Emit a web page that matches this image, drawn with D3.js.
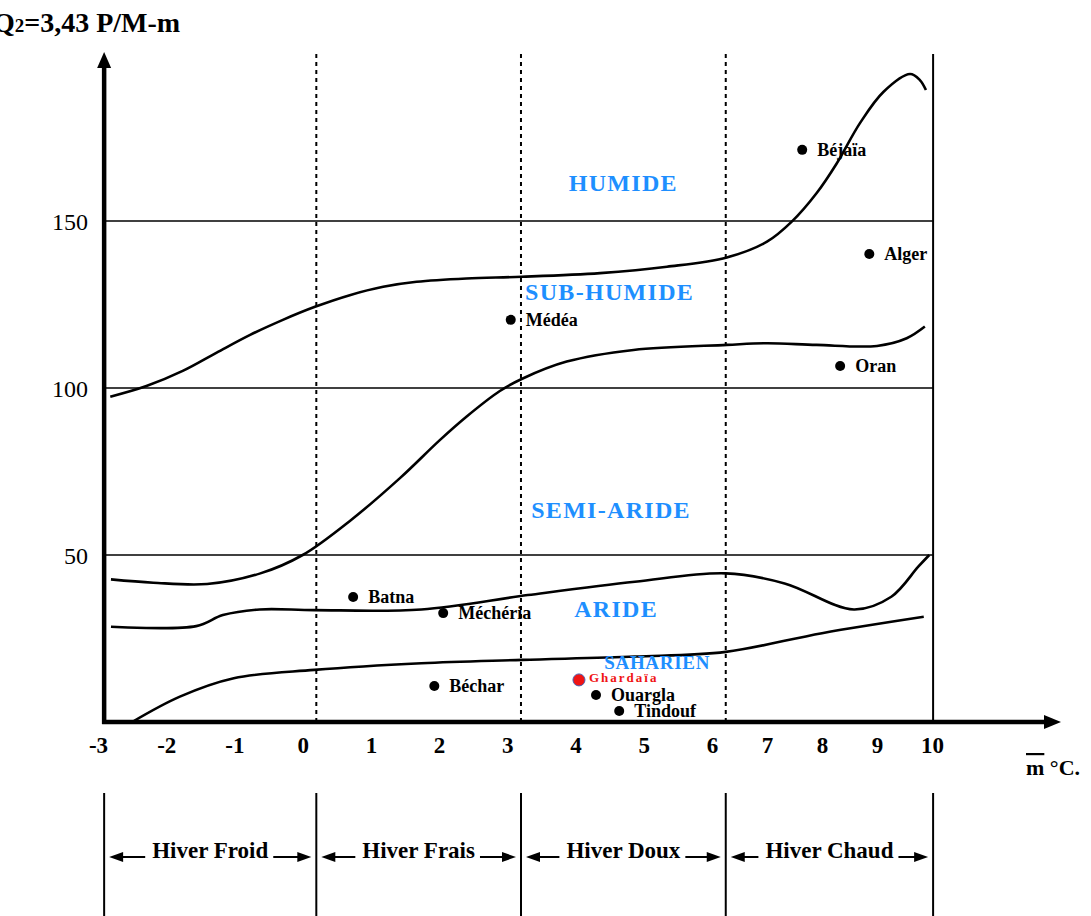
<!DOCTYPE html>
<html><head><meta charset="utf-8">
<script src="https://cdn.jsdelivr.net/npm/d3@7"></script>
<style>
html,body{margin:0;padding:0;background:#fff;}
text{font-family:"Liberation Serif","Times New Roman",serif;}
</style></head>
<body><svg id="chart" width="1091" height="916"></svg>
<script>
// ---------------- DATA ----------------
const xTicks = [-3,-2,-1,0,1,2,3,4,5,6,7,8,9,10];
const yTicks = [50,100,150];

// Climatic zone boundary curves (m °C, Q2)
const curveHumideM = [-2.82,-2.29,-1.75,-1.26,-0.77,-0.29,0.18,0.69,1.18,1.67,2.4,3.21,4.36,5.34,6.27,7.0,7.45,7.9,8.27,8.69,9.12,9.6,9.78,9.89];
const curveHumideQ = [97.4,100.6,105.2,110.6,115.9,120.4,124.3,127.8,130.3,131.8,132.8,133.3,134.4,136.3,139.1,143.8,149.8,158.3,167.3,179.3,188.7,194,192.2,189.2];

const curveSubHumideM = [-2.81,-2.19,-1.4,-0.62,0.0,0.71,1.43,2.01,2.4,2.89,3.21,3.87,4.85,6.27,7.0,7.9,9.0,9.54,9.87];
const curveSubHumideQ = [42.7,41.7,41.3,44.5,50.0,60.5,73.1,84.4,91.4,99.1,102.7,107.9,111.4,112.9,113.4,112.9,112.6,114.9,118.4];

const curveSemiAridM = [-2.81,-1.56,-1.17,-0.63,0.17,1.74,3.3,4.87,6.25,7.32,8.58,9.26,9.75,9.95];
const curveSemiAridQ = [28.5,28.7,32.0,33.7,33.5,33.7,38.0,42.0,44.5,41.5,33.7,37.5,46.5,50.0];

const curveArideM = [-2.5,-1.8,-1.01,0.17,1.74,3.22,4.87,6.25,8.0,9.85];
const curveArideQ = [0.0,7.6,13.1,15.6,17.6,18.6,19.6,21.0,26.6,31.5];

// Stations
const stations = ["Béjaïa","Alger","Médéa","Oran","Batna","Méchéria","Béchar","Ghardaïa","Ouargla","Tindouf"];
const stationM = [7.64,8.86,3.05,8.33,0.74,2.06,1.93,4.05,4.3,4.64];
const stationQ = [171.3,140.1,120.4,106.6,37.4,32.6,10.8,12.6,8.1,3.3];

// Zone labels
const zoneNames = ["HUMIDE","SUB-HUMIDE","SEMI-ARIDE","ARIDE","SAHARIEN"];
const zoneM = [3.9,3.26,3.35,3.98,4.42];
const zoneQ = [159.1,126.3,61.1,31.5,15.8];

// Winter types
const winterNames = ["Hiver Froid","Hiver Frais","Hiver Doux","Hiver Chaud"];
const winterBounds = [-2.91,0.2,3.2,6.25,10.02];

// ---------------- CHART ----------------
const svg = d3.select("#chart");
const x = d3.scaleLinear().domain([-3,6,10]).range([98,712,932]);
const y = d3.scaleLinear().domain([0,200]).range([722,54]);
const x0 = x(winterBounds[0]), x1 = x(winterBounds[4]);
const yTop = 54, yBase = y(0);
const blue = "#1e8fff";

// horizontal reference lines
svg.append("g").selectAll("line").data(yTicks).join("line")
  .attr("x1",x0).attr("x2",x1).attr("y1",d=>y(d)).attr("y2",d=>y(d))
  .attr("stroke","#000").attr("stroke-width",1.4);

// dotted winter boundaries
svg.append("g").selectAll("line").data(winterBounds.slice(1,4)).join("line")
  .attr("x1",d=>x(d)).attr("x2",d=>x(d)).attr("y1",yTop).attr("y2",yBase)
  .attr("stroke","#000").attr("stroke-width",2).attr("stroke-dasharray","4,4");

// right solid border
svg.append("line").attr("x1",x1).attr("x2",x1).attr("y1",yTop).attr("y2",yBase)
  .attr("stroke","#000").attr("stroke-width",2);

// curves
const line = d3.line().x(d=>x(d[0])).y(d=>y(d[1])).curve(d3.curveCatmullRom.alpha(0.5));
const curves = [
  d3.zip(curveHumideM,curveHumideQ),
  d3.zip(curveSubHumideM,curveSubHumideQ),
  d3.zip(curveSemiAridM,curveSemiAridQ),
  d3.zip(curveArideM,curveArideQ)
];
svg.append("g").selectAll("path").data(curves).join("path")
  .attr("d",line).attr("fill","none").attr("stroke","#000").attr("stroke-width",2.6);

// axes lines with arrows
svg.append("line").attr("x1",x0).attr("x2",x0).attr("y1",yBase+2).attr("y2",yTop+12)
  .attr("stroke","#000").attr("stroke-width",4.5);
svg.append("path").attr("d",`M${x0},${yTop-2}L${x0-7},${yTop+14}L${x0+7},${yTop+14}Z`).attr("fill","#000");
svg.append("line").attr("x1",x0-2).attr("x2",1046).attr("y1",yBase).attr("y2",yBase)
  .attr("stroke","#000").attr("stroke-width",4.5);
svg.append("path").attr("d",`M1061,${yBase}L1044,${yBase-7}L1044,${yBase+7}Z`).attr("fill","#000");

// x axis labels
const gx = svg.append("g").attr("transform",`translate(0,${yBase})`)
  .call(d3.axisBottom(x).tickValues(xTicks).tickSize(0).tickFormat(d=>String(d)));
gx.select(".domain").remove();
gx.selectAll("text").attr("y",31).attr("dy",0)
  .style("font-family",'"Liberation Serif",serif').style("font-size","23px").style("font-weight","bold").attr("fill","#000");

// y axis labels
const gy = svg.append("g").attr("transform","translate(88,0)")
  .call(d3.axisLeft(y).tickValues(yTicks).tickSize(0));
gy.select(".domain").remove();
gy.selectAll("text").attr("x",0).attr("dy",0).attr("y",8)
  .style("font-family",'"Liberation Serif",serif').style("font-size","24px").attr("fill","#000");

// title
const title = svg.append("text").attr("x",-7).attr("y",32)
  .style("font-size","28px").style("font-weight","bold");
title.append("tspan").text("Q");
title.append("tspan").style("font-size","19px").text("2");
title.append("tspan").text("=3,43 P/M-m");

// x axis title
const xt = svg.append("text").attr("x",1026).attr("y",775)
  .style("font-size","22px").style("font-weight","bold");
xt.append("tspan").style("text-decoration","overline").text("m");
xt.append("tspan").text(" °C.");

// zone labels
svg.append("g").selectAll("text").data(d3.range(zoneNames.length)).join("text")
  .attr("x",i=>x(zoneM[i])).attr("y",i=>y(zoneQ[i]))
  .attr("fill",blue).style("font-weight","bold")
  .style("font-size",i=>i===4?"19px":"24px")
  .style("letter-spacing",i=>i===4?"0.7px":"1.3px")
  .text(i=>zoneNames[i]);

// stations
const isG = i => stations[i]==="Ghardaïa";
const st = svg.append("g").selectAll("g").data(d3.range(stations.length)).join("g")
  .attr("transform",i=>`translate(${x(stationM[i])},${y(stationQ[i])})`);
st.append("circle").attr("r",i=>isG(i)?6:5)
  .attr("fill",i=>isG(i)?"#f01414":"#000")
  .attr("stroke",i=>isG(i)?"#4a5fb0":"none").attr("stroke-width",1);
st.append("text").attr("x",i=>isG(i)?10:15)
  .attr("y",i=>isG(i)?2:6)
  .style("font-weight","bold")
  .style("font-size",i=>isG(i)?"13px":"18px")
  .style("letter-spacing",i=>isG(i)?"2px":"0px")
  .attr("fill",i=>isG(i)?"#f01414":"#000")
  .text(i=>stations[i]);

// winter section
svg.append("g").selectAll("line").data(winterBounds).join("line")
  .attr("x1",d=>x(d)).attr("x2",d=>x(d)).attr("y1",793).attr("y2",916)
  .attr("stroke","#000").attr("stroke-width",2);
const yw = 858, ya = 857;
winterNames.forEach((name,i)=>{
  const a = x(winterBounds[i]), b = x(winterBounds[i+1]), c = (a+b)/2;
  const t = svg.append("text").attr("x",c).attr("y",yw).attr("text-anchor","middle")
    .style("font-size","23px").style("font-weight","bold").text(name);
  const w = t.node().getComputedTextLength();
  const ts = c-w/2, te = c+w/2;
  const g = svg.append("g");
  g.append("line").attr("x1",a+14).attr("x2",ts-7).attr("y1",ya).attr("y2",ya).attr("stroke","#000").attr("stroke-width",2);
  g.append("path").attr("d",`M${a+5},${ya}L${a+19},${ya-5}L${a+19},${ya+5}Z`).attr("fill","#000");
  g.append("line").attr("x1",te+5).attr("x2",b-14).attr("y1",ya).attr("y2",ya).attr("stroke","#000").attr("stroke-width",2);
  g.append("path").attr("d",`M${b-5},${ya}L${b-19},${ya-5}L${b-19},${ya+5}Z`).attr("fill","#000");
});
</script></body></html>
